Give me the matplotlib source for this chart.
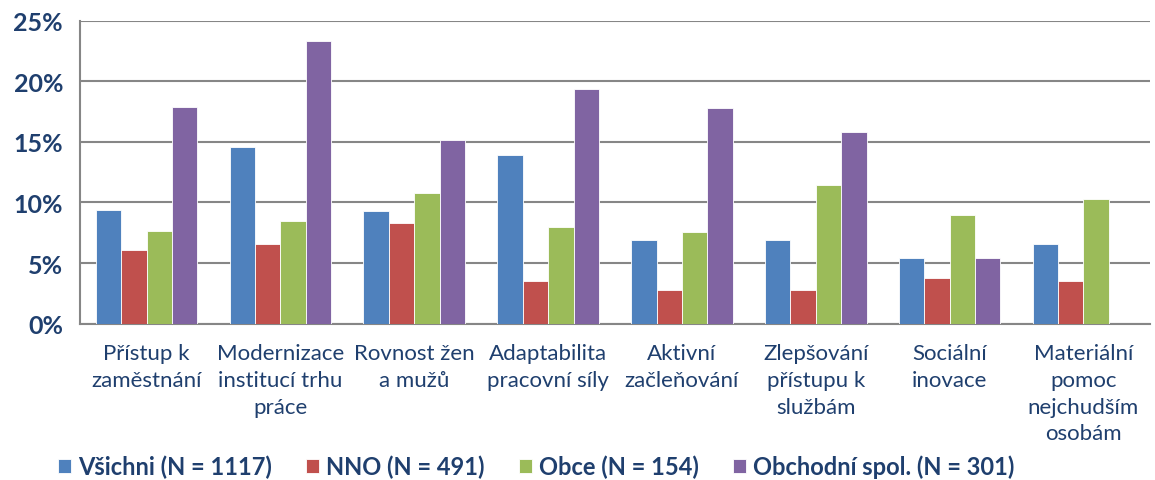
import numpy as np
import matplotlib.pyplot as plt
from matplotlib.ticker import FuncFormatter

# categories and series (percent)
categories = ["Přístup k\nzaměstnání", "Modernizace\ninstitucí trhu\npráce",
              "Rovnost žen\na mužů", "Adaptabilita\npracovní síly",
              "Aktivní\nzačleňování", "Zlepšování\npřístupu k\nslužbám",
              "Sociální\ninovace", "Materiální\npomoc\nnejchudším\nosobám"]
series_names = ["Všichni (N = 1117)", "NNO (N = 491)", "Obce (N = 154)",
                "Obchodní spol. (N = 301)"]
vsichni = [9.4, 14.55, 9.3, 13.95, 6.9, 6.9, 5.45, 6.6]
nno = [6.1, 6.6, 8.3, 3.5, 2.75, 2.8, 3.8, 3.5]
obce = [7.65, 8.5, 10.75, 8.0, 7.6, 11.45, 9.0, 10.3]
obchodni = [17.85, 23.3, 15.15, 19.4, 17.8, 15.8, 5.4, 0]

colors = ["#4F81BD", "#C0504D", "#9BBB59", "#8064A2"]
text_col = "#1F3F6E"

plt.rcParams['font.family'] = ['Lato', 'DejaVu Sans']

fig = plt.figure(figsize=(11.55, 4.81), dpi=100)
ax = fig.add_axes([0.069, 0.325, 0.927, 0.63])

x = np.arange(len(categories))
w = 0.19
for i, vals in enumerate([vsichni, nno, obce, obchodni]):
    ax.bar(x + (i - 1.5) * w, vals, w, color=colors[i], label=series_names[i],
           edgecolor="white", linewidth=0.6, zorder=3)

ax.set_xlim(-0.5, len(categories) - 0.5)
ax.set_ylim(0, 25)
ax.set_yticks(np.arange(0, 26, 5))
ax.yaxis.set_major_formatter(FuncFormatter(lambda v, p: f"{v:.0f}%"))
ax.grid(axis="y", color="#868686", linewidth=1.5, zorder=0)
for s in ["top", "right"]:
    ax.spines[s].set_visible(False)
for s in ["left", "bottom"]:
    ax.spines[s].set_color("#868686")
    ax.spines[s].set_linewidth(1.5)

ax.set_xticks(x)
ax.set_xticklabels(categories, fontsize=16, color=text_col, linespacing=1.42,
                   va="top")
ax.tick_params(axis="x", length=0, pad=14)
ax.tick_params(axis="y", length=0, pad=12, labelsize=18, labelcolor=text_col)
for lbl in ax.get_yticklabels():
    lbl.set_fontweight("bold")

leg = fig.legend(loc="lower left", bbox_to_anchor=(0.032, -0.04), ncol=4,
                 frameon=False, handlelength=0.55, handleheight=0.55,
                 handletextpad=0.3, columnspacing=1.45,
                 prop={"size": 17, "weight": "bold"})
for t in leg.get_texts():
    t.set_color(text_col)

fig.savefig("out.png", dpi=100)
